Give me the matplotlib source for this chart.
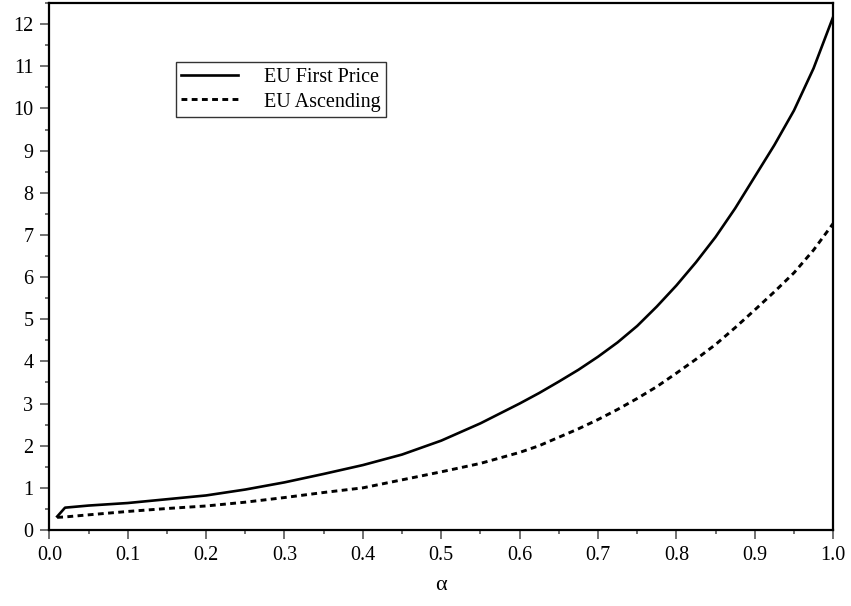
import matplotlib
matplotlib.use('Agg')
import matplotlib.pyplot as plt
from matplotlib.ticker import MultipleLocator, FormatStrFormatter

# values
alpha = [0.01, 0.02, 0.05, 0.10, 0.15, 0.20, 0.25, 0.30, 0.35, 0.40, 0.45,
         0.50, 0.55, 0.60, 0.625, 0.65, 0.675, 0.70, 0.725, 0.75, 0.775,
         0.80, 0.825, 0.85, 0.875, 0.90, 0.925, 0.95, 0.975, 1.00]
eu_first_price = [0.32, 0.53, 0.58, 0.64, 0.73, 0.82, 0.96, 1.13, 1.33, 1.54, 1.79,
                  2.12, 2.53, 3.00, 3.25, 3.52, 3.80, 4.11, 4.45, 4.84, 5.30,
                  5.80, 6.35, 6.95, 7.63, 8.38, 9.13, 9.95, 10.95, 12.17]
eu_ascending = [0.30, 0.31, 0.36, 0.44, 0.51, 0.57, 0.66, 0.77, 0.89, 1.00, 1.19,
                1.38, 1.58, 1.84, 2.00, 2.20, 2.40, 2.62, 2.86, 3.12, 3.40,
                3.72, 4.05, 4.40, 4.80, 5.22, 5.65, 6.10, 6.64, 7.27]

plt.rcParams['font.family'] = ['Liberation Serif', 'DejaVu Serif']

fig = plt.figure(figsize=(8.51, 6.06), dpi=100)
ax = fig.add_axes([0.058, 0.1254, 0.921, 0.8696])

ax.plot(alpha, eu_first_price, color='black', lw=1.9, label='EU First Price')
ax.plot(alpha, eu_ascending, color='black', lw=2.1, linestyle=(0, (2.0, 1.5)),
        label='EU Ascending')

ax.set_xlim(0, 1.0)
ax.set_ylim(0, 12.5)
ax.xaxis.set_major_locator(MultipleLocator(0.1))
ax.xaxis.set_minor_locator(MultipleLocator(0.05))
ax.xaxis.set_major_formatter(FormatStrFormatter('%.1f'))
ax.yaxis.set_major_locator(MultipleLocator(1))
ax.yaxis.set_minor_locator(MultipleLocator(0.5))

ax.tick_params(which='major', length=6.5, width=1.2, color='0.35', labelsize=14.5)
ax.tick_params(axis='x', which='major', pad=5)
ax.tick_params(axis='y', which='major', pad=5)
ax.tick_params(which='minor', length=3, width=1.2, color='0.35')
for s in ax.spines.values():
    s.set_linewidth(1.6)
    s.set_color('black')

ax.set_xlabel('α', fontsize=16, labelpad=8)

leg = ax.legend(loc='upper left', bbox_to_anchor=(0.161, 0.888), fontsize=14.5,
                frameon=True, fancybox=False, edgecolor='black', handlelength=2.8,
                borderpad=0.28, labelspacing=0.28, handletextpad=1.3,
                borderaxespad=0)
leg.get_frame().set_linewidth(1.0)

fig.savefig('out.png', dpi=100)
